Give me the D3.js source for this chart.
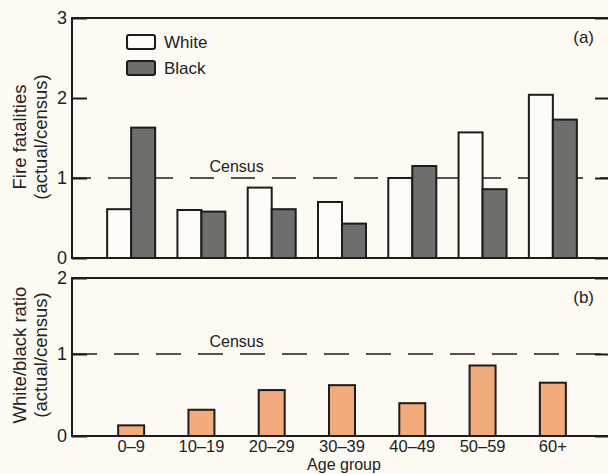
<!DOCTYPE html>
<html>
<head>
<meta charset="utf-8">
<script src="https://cdn.jsdelivr.net/npm/d3@7/dist/d3.min.js"></script>
<style>
  html, body { margin: 0; padding: 0; background: #fcfaf3; }
  svg { display: block; }
  text { font-family: "Liberation Sans", Arial, Helvetica, sans-serif; fill: #222; }
</style>
</head>
<body>
<svg id="chart" width="608" height="474"></svg>
<script>
// ---- data ----
const ageGroups = ["0–9", "10–19", "20–29", "30–39", "40–49", "50–59", "60+"];
const seriesNames = ["White", "Black"];
const whiteValues = [0.61, 0.60, 0.88, 0.70, 1.00, 1.57, 2.04];
const blackValues = [1.63, 0.58, 0.61, 0.43, 1.15, 0.86, 1.73];
const ratioValues = [0.13, 0.32, 0.56, 0.62, 0.40, 0.86, 0.65];
const topTicks = [0, 1, 2, 3];
const bottomTicks = [0, 1, 2];
const censusLevel = 1;

// ---- layout ----
const svg = d3.select("#chart");
const left = 72, right = 610;
const ink = "#1c1c1c";
const fills = { White: "#fdfcf8", Black: "#6e6e6c" };
const ratioFill = "#f2ab7c";

const x = d3.scaleBand().domain(ageGroups).range([96, 588]).padding(0);
const xs = d3.scaleBand().domain(seriesNames)
  .range([x.bandwidth() / 2 - 24, x.bandwidth() / 2 + 24]);

const yTop = d3.scaleLinear().domain([0, 3]).range([258, 18]);
const yBot = d3.scaleLinear().domain([0, 1, 2]).range([436, 354, 278]);

function panel(y, ticks, tag, tagY) {
  const g = svg.append("g");
  const [y0, y1] = [y(ticks[0]), y(ticks[ticks.length - 1])];
  g.append("path")
    .attr("d", `M${left},${y1}H${right}V${y0}H${left}Z`)
    .attr("fill", "none").attr("stroke", ink).attr("stroke-width", 2);
  const la = d3.axisLeft(y).tickValues(ticks).tickSize(-15).tickPadding(5).tickFormat(d3.format("d"));
  const axL = g.append("g").attr("transform", `translate(${left},0)`).call(la);
  axL.select(".domain").remove();
  axL.selectAll("line").attr("stroke", ink).attr("stroke-width", 2);
  axL.selectAll("text").attr("font-size", 18).attr("fill", "#222")
    .attr("font-family", '"Liberation Sans", Arial, sans-serif');
  const ra = d3.axisRight(y).tickValues(ticks).tickSize(-15).tickFormat("");
  const axR = g.append("g").attr("transform", `translate(${right},0)`).call(ra);
  axR.select(".domain").remove();
  axR.selectAll("line").attr("stroke", ink).attr("stroke-width", 2);
  g.append("text").attr("x", 594).attr("y", tagY).attr("text-anchor", "end")
    .attr("font-size", 17).text(tag);
  return g;
}

const gTop = panel(yTop, topTicks, "(a)", 43);
const gBot = panel(yBot, bottomTicks, "(b)", 303);

// census lines
gTop.append("line")
  .attr("x1", left).attr("x2", right)
  .attr("y1", yTop(censusLevel)).attr("y2", yTop(censusLevel))
  .attr("stroke", ink).attr("stroke-width", 1.6)
  .attr("stroke-dasharray", "24,17").attr("stroke-dashoffset", 5);
gTop.append("text").attr("x", x(ageGroups[2])).attr("y", yTop(censusLevel) - 6)
  .attr("text-anchor", "middle").attr("font-size", 16).text("Census");

gBot.append("line")
  .attr("x1", left).attr("x2", right)
  .attr("y1", yBot(censusLevel)).attr("y2", yBot(censusLevel))
  .attr("stroke", ink).attr("stroke-width", 1.6)
  .attr("stroke-dasharray", "25,17");
gBot.append("text").attr("x", x(ageGroups[2])).attr("y", yBot(censusLevel) - 7)
  .attr("text-anchor", "middle").attr("font-size", 16).text("Census");

// top bars
const topRows = ageGroups.map((g, i) => ({ g, White: whiteValues[i], Black: blackValues[i] }));
gTop.append("g").selectAll("g").data(topRows).join("g")
  .attr("transform", d => `translate(${x(d.g)},0)`)
  .selectAll("rect")
  .data(d => seriesNames.map(s => ({ s, v: d[s] })))
  .join("rect")
  .attr("x", d => xs(d.s))
  .attr("width", xs.bandwidth())
  .attr("y", d => yTop(d.v))
  .attr("height", d => yTop(0) - yTop(d.v))
  .attr("fill", d => fills[d.s])
  .attr("stroke", ink).attr("stroke-width", 2);

// bottom bars
gBot.append("g").selectAll("rect")
  .data(ageGroups.map((g, i) => ({ g, v: ratioValues[i] })))
  .join("rect")
  .attr("x", d => x(d.g) + x.bandwidth() / 2 - 13)
  .attr("width", 26)
  .attr("y", d => yBot(d.v))
  .attr("height", d => yBot(0) - yBot(d.v))
  .attr("fill", ratioFill)
  .attr("stroke", ink).attr("stroke-width", 2);

// x tick labels
const xa = d3.axisBottom(x).tickSize(0).tickPadding(4);
const axX = svg.append("g").attr("transform", `translate(0,${yBot(0)})`).call(xa);
axX.select(".domain").remove();
axX.selectAll("text").attr("font-size", 16.5).attr("fill", "#222")
  .attr("font-family", '"Liberation Sans", Arial, sans-serif');

svg.append("text").attr("x", 344).attr("y", 470.3).attr("text-anchor", "middle")
  .attr("font-size", 16).text("Age group");

// y titles
function yTitle(lines, cy) {
  const t = svg.append("text").attr("transform", `translate(26,${cy}) rotate(-90)`)
    .attr("text-anchor", "middle").attr("font-size", 18.5);
  lines.forEach((l, i) => t.append("tspan").attr("x", 0).attr("dy", i === 0 ? 0 : 21).text(l));
}
yTitle(["Fire fatalities", "(actual/census)"], 137);
yTitle(["White/black ratio", "(actual/census)"], 355);

// legend
const legend = svg.append("g");
seriesNames.forEach((s, i) => {
  legend.append("rect").attr("x", 127).attr("y", 35 + i * 26).attr("width", 28).attr("height", 14)
    .attr("rx", 2).attr("fill", fills[s]).attr("stroke", ink).attr("stroke-width", 2);
  legend.append("text").attr("x", 164).attr("y", 48 + i * 25.5).attr("font-size", 17).text(s);
});
</script>
</body>
</html>
